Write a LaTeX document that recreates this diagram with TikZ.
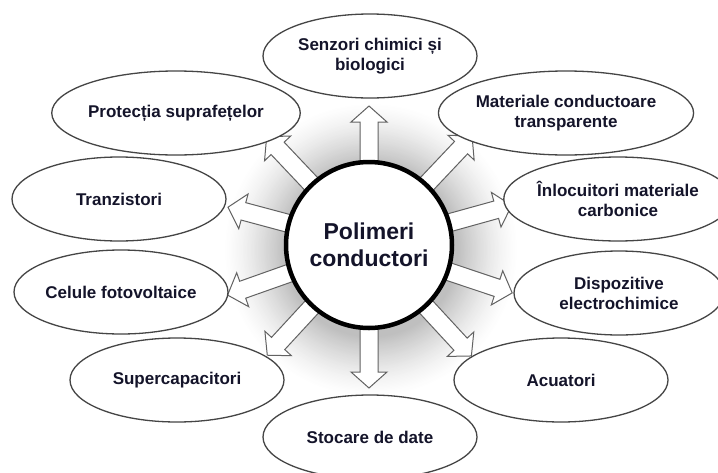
\documentclass[tikz,border=0pt]{standalone}
\usepackage{fontspec}
\setmainfont{Liberation Sans}
\usetikzlibrary{shapes.geometric,calc}
\pgfdeclarelayer{back}
\pgfdeclarelayer{mid}
\pgfsetlayers{back,mid,main}
\definecolor{txt}{HTML}{14142A}
\definecolor{edge}{HTML}{454545}
\definecolor{aedge}{HTML}{626262}
% block arrow leaving the hub (c) at angle #1, tip at distance #2
\newcommand\blockarrow[2]{%
  \coordinate (ba-a) at ($(c)+(#1:70pt)$);
  \coordinate (ba-b) at ($(c)+(#1:#2pt)$);
  \coordinate (ba-h) at ($(ba-b)!16pt!(ba-a)$);
  \draw[barrow] ($(ba-a)!9pt!90:(ba-b)$) -- ($(ba-h)!9pt!-90:(ba-a)$)
     -- ($(ba-h)!18pt!-90:(ba-a)$) -- (ba-b) -- ($(ba-h)!18pt!90:(ba-a)$)
     -- ($(ba-h)!9pt!90:(ba-a)$) -- ($(ba-a)!9pt!-90:(ba-b)$) -- cycle;
}
\begin{document}
\begin{tikzpicture}[x=1pt,y=-1pt,
  app/.style={ellipse, draw=edge, line width=1.3pt, fill=white,
    minimum width=214pt, minimum height=84pt, inner sep=0pt, align=center,
    text=txt, font=\fontsize{17}{20}\selectfont\bfseries},
  hub/.style={circle, draw=black, line width=4.5pt, fill=white,
    minimum size=166pt, inner sep=0pt, align=center,
    text=txt, font=\fontsize{23}{27}\selectfont\bfseries},
  barrow/.style={draw=aedge, fill=white, line width=1pt, line join=miter}]
\useasboundingbox (0,0) rectangle (718,472);
\clip (0,0) rectangle (718,472);
\coordinate (c) at (369,245);
\begin{pgfonlayer}{back}
  \fill[white] (0,0) rectangle (718,472);
  % soft grey halo round the hub
  \foreach \i in {0,...,45} {
    \pgfmathsetmacro\rr{148-\i*1.35}
    \pgfmathsetmacro\gg{25*(\i/45)^1.4}
    \fill[black!\gg] ($(c)+(2pt,-5pt)$) circle[radius=\rr pt];
  }
\end{pgfonlayer}

\node[hub] (hub) at (c) {Polimeri\\conductori};

\node[app] (e1) at (370,56) {Senzori chimici și\\biologici};
\node[app] (e2) at (176,113) {Protecția suprafețelor};
\node[app] (e3) at (119,199) {Tranzistori};
\node[app] (e4) at (121,292) {Celule fotovoltaice};
\node[app] (e5) at (177,380) {Supercapacitori};
\node[app] (e6) at (370,437) {Stocare de date};
\node[app] (e7) at (561,380) {Acuatori};
\node[app, minimum width=210pt] (e8) at (619,293) {Dispozitive\\electrochimice};
\node[app, minimum width=210pt] (e9) at (618,199) {Înlocuitori materiale\\carbonice};
\node[app] (e10) at (566,113) {Materiale conductoare\\transparente};

\begin{pgfonlayer}{mid}
  \blockarrow{90}{139}    % hub -> e1
  \blockarrow{133.4}{149} % hub -> e2
  \blockarrow{165}{146}   % hub -> e3
  \blockarrow{199.5}{150} % hub -> e4
  \blockarrow{227.3}{150} % hub -> e5
  \blockarrow{270}{143}   % hub -> e6
  \blockarrow{312.7}{151} % hub -> e7
  \blockarrow{341.5}{151} % hub -> e8
  \blockarrow{15.5}{148}  % hub -> e9
  \blockarrow{46.6}{150}  % hub -> e10
\end{pgfonlayer}
\end{tikzpicture}
\end{document}
